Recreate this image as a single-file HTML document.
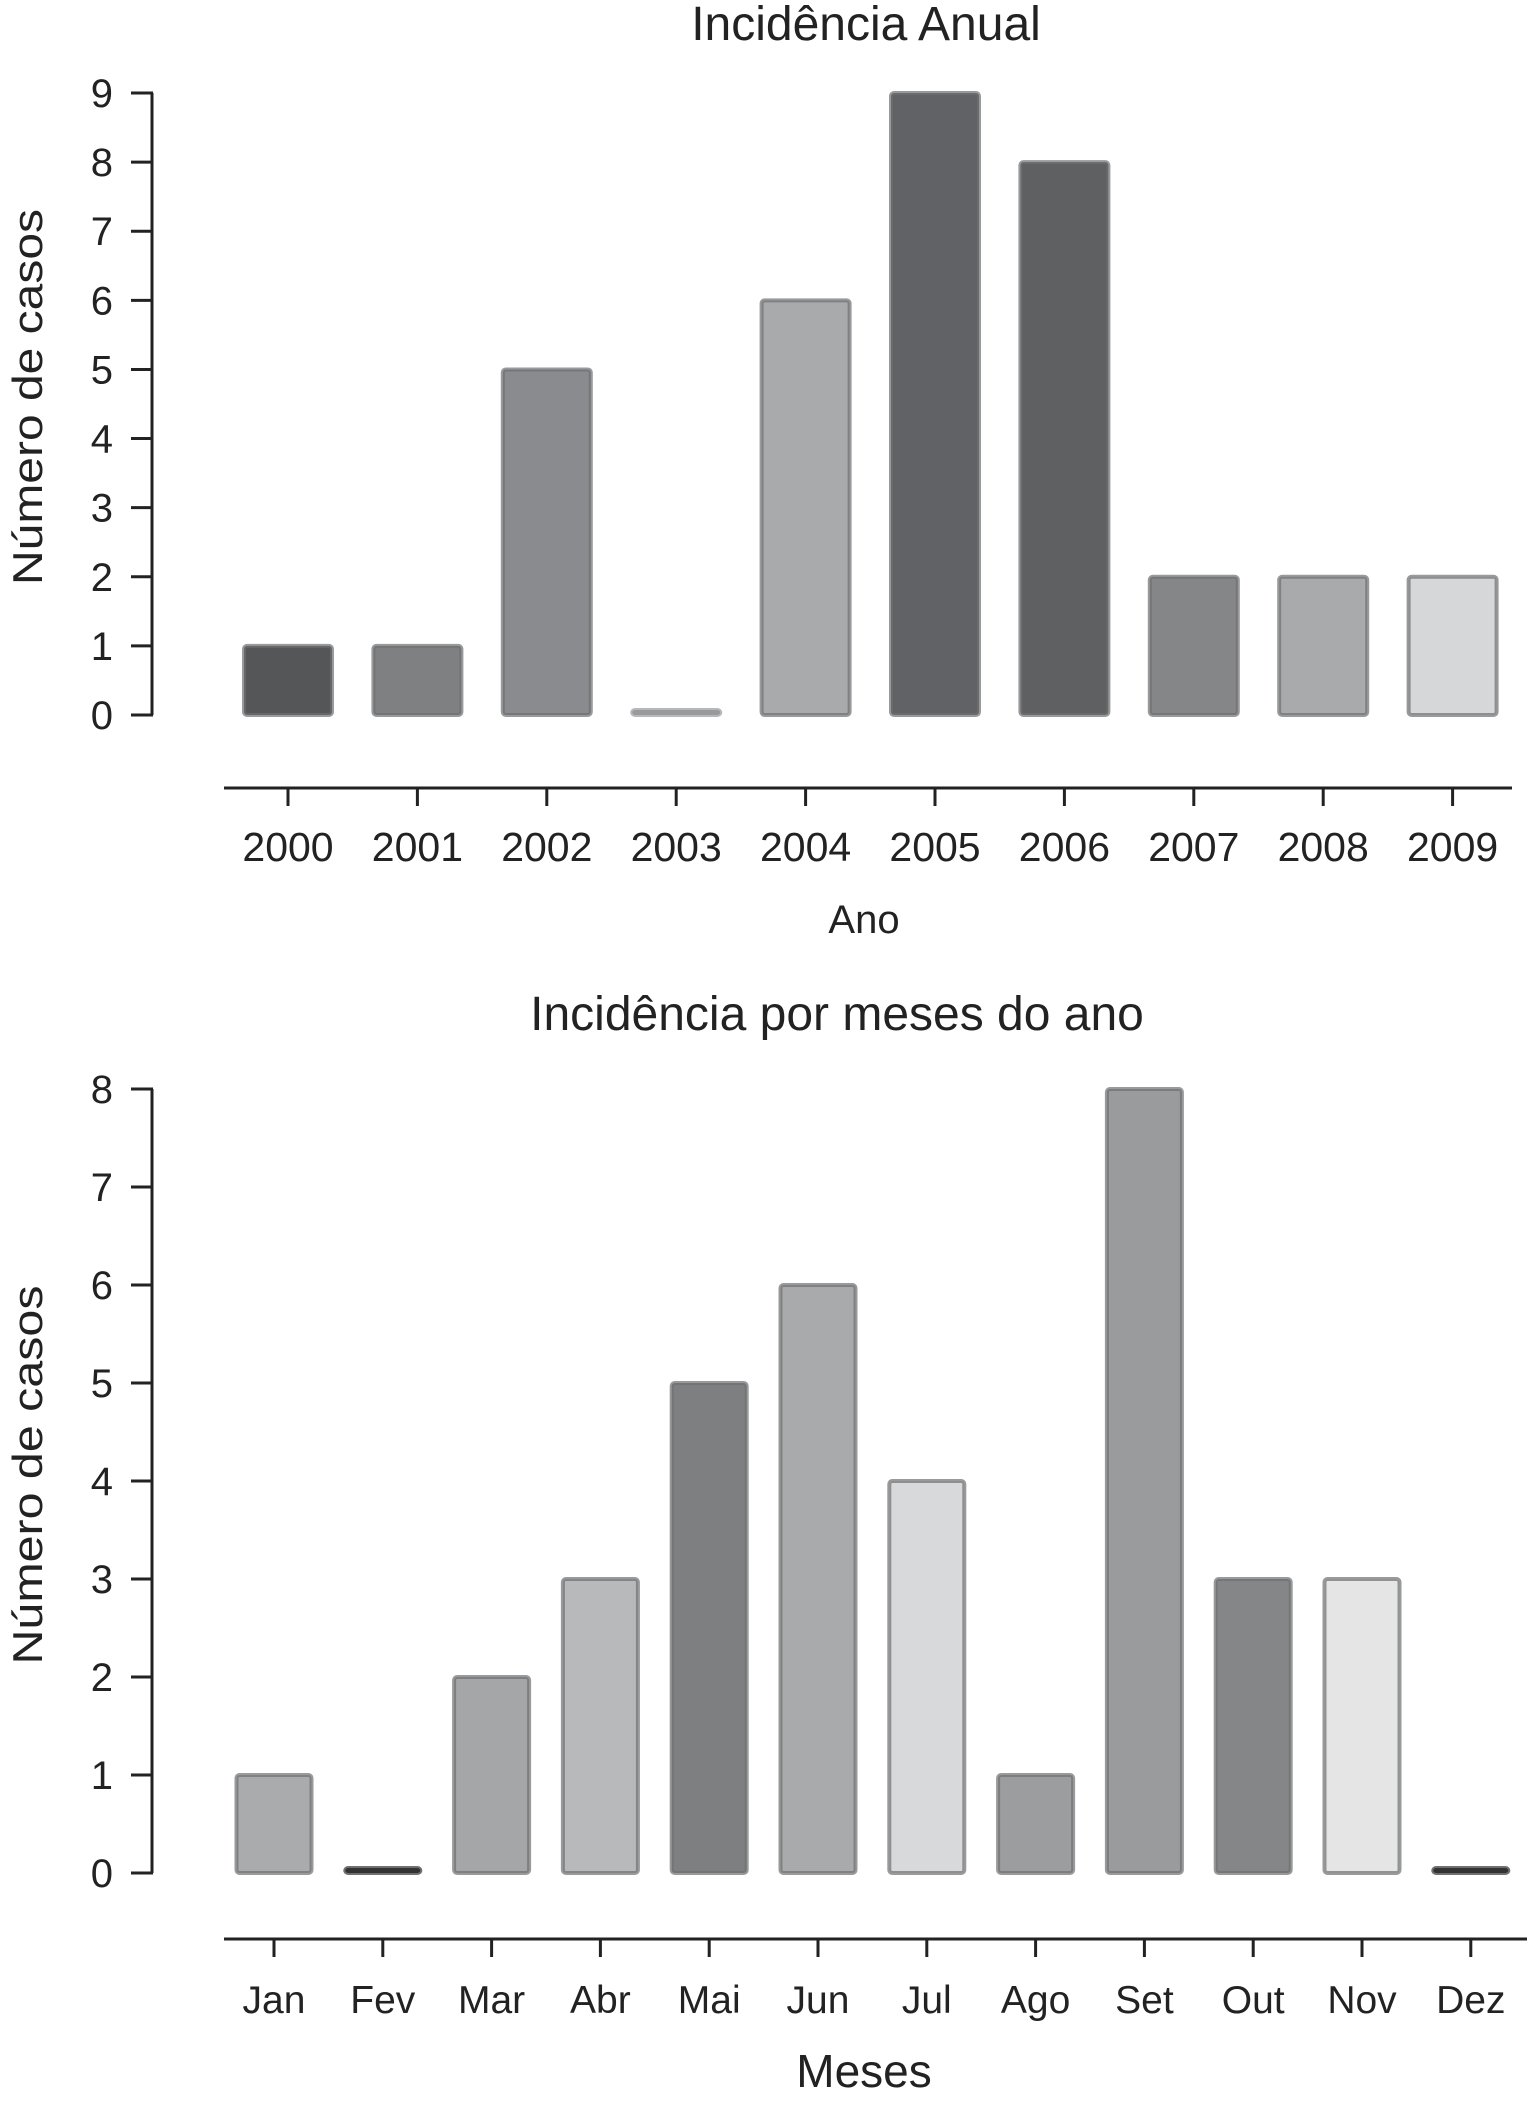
<!DOCTYPE html>
<html><head><meta charset="utf-8"><style>
html,body{margin:0;padding:0;background:#fff;}
svg{display:block;font-family:"Liberation Sans",sans-serif;}
</style></head><body>
<svg id="chart" width="1527" height="2111" viewBox="0 0 1527 2111" xmlns="http://www.w3.org/2000/svg">
<g id="top"></g>
<g id="bottom"></g>
</svg>
<script>
const NS="http://www.w3.org/2000/svg";
const yearCats=["2000","2001","2002","2003","2004","2005","2006","2007","2008","2009"];
const yearVals=[1,1,5,0,6,9,8,2,2,2];
const yearTicks=[0,1,2,3,4,5,6,7,8,9];
const yearFills=["#555658","#7f8082","#8a8b8e","#999a9c","#a9aaac","#616265","#5f6062","#858688","#a9aaac","#d6d7d8"];
const monthCats=["Jan","Fev","Mar","Abr","Mai","Jun","Jul","Ago","Set","Out","Nov","Dez"];
const monthVals=[1,0,2,3,5,6,4,1,8,3,3,0];
const monthTicks=[0,1,2,3,4,5,6,7,8];
const monthFills=["#aaabad","#333","#a5a6a8","#b8b9bb","#7e7f81","#a9aaac","#d8d9da","#9c9d9f","#9a9b9d","#858688","#e5e5e5","#333"];

function mk(parent,tag,attrs,text){const e=document.createElementNS(NS,tag);for(const k in attrs)e.setAttribute(k,attrs[k]);if(text!==undefined)e.textContent=text;parent.appendChild(e);return e;}

function drawChart(g,cfg){
  const y=v=>cfg.y0-(v/cfg.ymax)*(cfg.y0-cfg.y1);
  const x=i=>cfg.x0+i*cfg.step;
  const t=mk(g,'text',{x:cfg.titleX,y:cfg.titleY,'text-anchor':'middle','font-size':cfg.titleSize,fill:'#222'},cfg.title);
  
  
  const yl=mk(g,'line',{x1:152,x2:152,y1:y(cfg.ymax),y2:y(0),stroke:'#222','stroke-width':3});
  
  
  cfg.ticks.forEach(v=>{
    const tk=mk(g,'line',{x1:131,x2:153,y1:y(v),y2:y(v),stroke:'#222','stroke-width':3});
    
    
    const tl=mk(g,'text',{x:113,y:y(v)+14,'text-anchor':'end','font-size':40,fill:'#222'},String(v));
    
    
  });
  const yt=mk(g,'text',{x:0,y:0,'text-anchor':'middle','font-size':42,fill:'#222',textLength:cfg.yTitleLen,lengthAdjust:'spacingAndGlyphs',transform:`translate(42,${cfg.yTitleY}) rotate(-90)`},'Número de casos');
  
  
  const xl=mk(g,'line',{x1:224,x2:cfg.xEnd,y1:cfg.xAxisY,y2:cfg.xAxisY,stroke:'#222','stroke-width':3});
  
  
  cfg.cats.forEach((c,i)=>{
    const v=cfg.vals[i];
    const top=y(v), h=Math.max(y(0)-top,5);
    const b=mk(g,'rect',{x:x(i)-cfg.bw/2,y:v===0?y(0)-5:top,width:cfg.bw,height:h,rx:3,fill:cfg.fills[i],stroke:v===0?cfg.fills[i]:'#6e6f71','stroke-opacity':0.7,'stroke-width':4});
    
    
    const tk=mk(g,'line',{x1:x(i),x2:x(i),y1:cfg.xAxisY,y2:cfg.xAxisY+18,stroke:'#222','stroke-width':3});
    
    
    const tl=mk(g,'text',{x:x(i),y:cfg.labelY,'text-anchor':'middle','font-size':cfg.labelSize,fill:'#222'},c);
    
    
  });
  const xt=mk(g,'text',{x:864,y:cfg.xTitleY,'text-anchor':'middle','font-size':cfg.xTitleSize,fill:'#222'},cfg.xTitle);
  
  
}
drawChart(document.getElementById('top'),{cats:yearCats,vals:yearVals,ticks:yearTicks,fills:yearFills,ymax:9,y0:715,y1:93,x0:288,step:129.4,bw:88,xAxisY:788,xEnd:1512,labelY:861,labelSize:41,title:'Incidência Anual',titleSize:48,titleX:866,titleY:40,yTitleY:397,yTitleLen:376,xTitle:'Ano',xTitleY:933,xTitleSize:40});
drawChart(document.getElementById('bottom'),{cats:monthCats,vals:monthVals,ticks:monthTicks,fills:monthFills,ymax:8,y0:1873,y1:1089,x0:274,step:108.8,bw:75,xAxisY:1939,xEnd:1527,labelY:2013,labelSize:39,title:'Incidência por meses do ano',titleSize:48,titleX:837,titleY:1030,yTitleY:1475,yTitleLen:379,xTitle:'Meses',xTitleY:2087,xTitleSize:46});
</script>
</body></html>
